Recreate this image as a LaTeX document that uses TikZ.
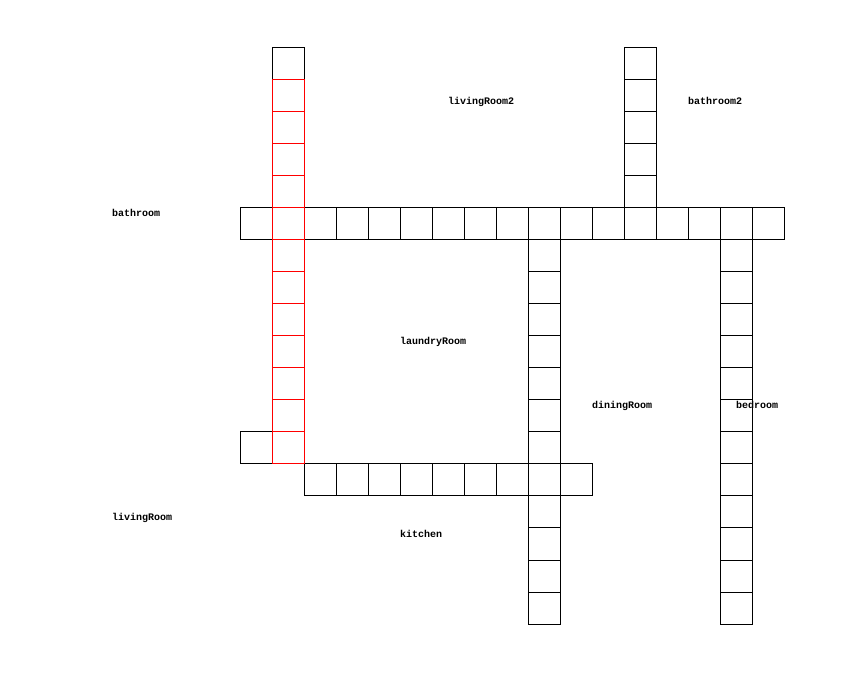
\documentclass[tikz,border=0pt]{standalone}
\usepackage{fontspec}
\newfontfamily\labelfont{Liberation Mono}[BoldFont={Liberation Mono Bold}]
\begin{document}
\begin{tikzpicture}[x=1pt,y=-1pt,
  cell/.style={draw=black,line width=1pt},
  redcell/.style={draw=red,line width=1pt},
  roomlabel/.style={anchor=base west,inner sep=0pt,font=\labelfont\bfseries\fontsize{10}{12}\selectfont}]
\useasboundingbox[fill=white] (0,0) rectangle (852,692);
% horizontal word, top row
\foreach \x in {240,272,...,752} \draw[cell] (\x,208) rectangle ++(32,32);
% vertical word at x=624
\foreach \y in {48,80,...,176} \draw[cell] (624,\y) rectangle ++(32,32);
% vertical word at x=528
\foreach \y in {240,272,...,592} \draw[cell] (528,\y) rectangle ++(32,32);
% vertical word at x=720
\foreach \y in {240,272,...,592} \draw[cell] (720,\y) rectangle ++(32,32);
% horizontal word, bottom row
\foreach \x in {304,336,...,560} \draw[cell] (\x,464) rectangle ++(32,32);
% single cell
\draw[cell] (240,432) rectangle ++(32,32);
% top cell of red column
\draw[cell] (272,48) rectangle ++(32,32);
% red column
\foreach \y in {80,112,...,432} \draw[redcell] (272,\y) rectangle ++(32,32);
% labels
\node[roomlabel] (livingroom2) at (448,105) {livingRoom2};
\node[roomlabel] (bathroom2) at (688,105) {bathroom2};
\node[roomlabel] (bathroom) at (112,217) {bathroom};
\node[roomlabel] (laundryroom) at (400,345) {laundryRoom};
\node[roomlabel] (diningroom) at (592,409) {diningRoom};
\node[roomlabel] (bedroom) at (736,409) {bedroom};
\node[roomlabel] (livingroom) at (112,521) {livingRoom};
\node[roomlabel] (kitchen) at (400,537) {kitchen};
\end{tikzpicture}
\end{document}
